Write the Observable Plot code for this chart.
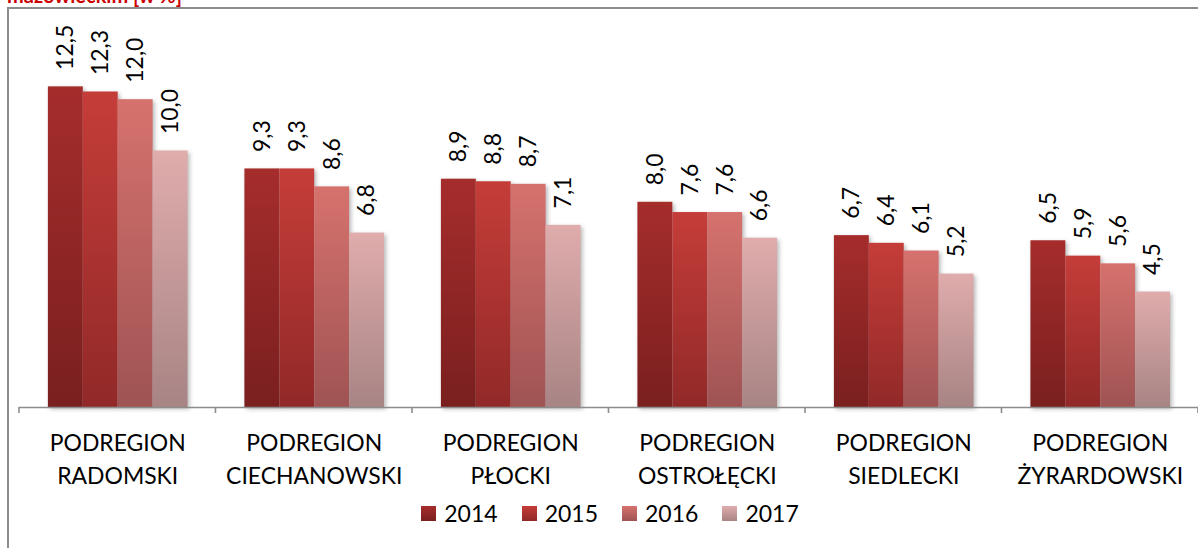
<!DOCTYPE html>
<html><head><meta charset="utf-8">
<script src="https://cdn.jsdelivr.net/npm/d3@7"></script>
<script src="https://cdn.jsdelivr.net/npm/@observablehq/plot@0.6"></script>
<style>
html,body{margin:0;padding:0;overflow:hidden;background:#fff;width:1198px;height:548px;}
#wrap{position:relative;width:1198px;height:548px;overflow:hidden;font-family:Lato,sans-serif;}
#frame{position:absolute;left:7px;top:7px;width:1300px;height:600px;border-left:2px solid #8c8c8c;border-top:2px solid #8c8c8c;}
#title{position:absolute;left:7px;top:-15px;font-size:20px;line-height:20px;font-weight:bold;color:#cc0000;white-space:nowrap;}
#chart{position:absolute;left:0;top:0;}
#legend{position:absolute;top:499px;left:0;width:1220px;display:flex;justify-content:center;gap:24px;font-size:23px;line-height:28px;color:#000;}
#legend .item{display:flex;align-items:center;gap:8px;}
#legend svg{display:block;}
</style></head>
<body><div id="wrap"><div id="title">mazowieckim [w %]</div><div id="frame"></div><div id="chart"></div><div id="legend"></div></div>
<script>
const regions = ["PODREGION\nRADOMSKI","PODREGION\nCIECHANOWSKI","PODREGION\nPŁOCKI","PODREGION\nOSTROŁĘCKI","PODREGION\nSIEDLECKI","PODREGION\nŻYRARDOWSKI"];
const years = ["2014","2015","2016","2017"];
const v2014 = [12.5, 9.3, 8.9, 8.0, 6.7, 6.5];
const v2015 = [12.3, 9.3, 8.8, 7.6, 6.4, 5.9];
const v2016 = [12.0, 8.6, 8.7, 7.6, 6.1, 5.6];
const v2017 = [10.0, 6.8, 7.1, 6.6, 5.2, 4.5];
const colorsTop = ["#a52d2c", "#c53d39", "#d6726e", "#e0acac"];
const colorsBottom = ["#7a1f1f", "#912928", "#9f5353", "#a88484"];

const series = [v2014, v2015, v2016, v2017];
const data = [];
regions.forEach((r, i) => years.forEach((y, j) => data.push({region: r, year: y, value: series[j][i]})));

const fmt = v => v.toFixed(1).replace(".", ",");

const plot = Plot.plot({
  width: 1201, height: 548,
  marginLeft: 19, marginRight: 0, marginTop: 48, marginBottom: 140,
  style: {fontFamily: "Lato, sans-serif", background: "transparent", overflow: "visible"},
  fx: {domain: regions, paddingInner: 0, paddingOuter: 0, label: null},
  x: {domain: years, paddingInner: 0, paddingOuter: 0.76, axis: null},
  y: {domain: [0, 14], axis: null},
  color: {domain: years, range: years.map(y => `url(#grad${y})`)},
  marks: [
    Plot.barY(data, {fx: "region", x: "year", y: "value", fill: "year", className: "bars"}),
    Plot.ruleY([0], {stroke: "#8c8c8c", strokeWidth: 1.6}),
    Plot.text(data, {fx: "region", x: "year", y: "value", text: d => fmt(d.value), rotate: -90, textAnchor: "start", lineAnchor: "middle", dy: -17, fontSize: 23, fill: "#000"}),
    Plot.axisFx({anchor: "bottom", tickSize: 0, tickPadding: 19, fontSize: 23, lineHeight: 1.48, label: null, fill: "#000"})
  ]
});

// gradients
const svg = d3.select(plot);
const defs = svg.insert("defs", ":first-child");
years.forEach((y, j) => {
  const g = defs.append("linearGradient").attr("id", `grad${y}`).attr("x1", 0).attr("y1", 0).attr("x2", 0).attr("y2", 1);
  g.append("stop").attr("offset", "0%").attr("stop-color", colorsTop[j]);
  g.append("stop").attr("offset", "100%").attr("stop-color", colorsBottom[j]);
});
svg.selectAll("g.bars").style("filter", "drop-shadow(2px 2px 2px rgba(0,0,0,0.28))");

// category boundary ticks from the fx scale
const fx = plot.scale("fx");
const yS = plot.scale("y");
const y0 = yS.apply(0);
const bounds = regions.map(r => fx.apply(r)).concat([fx.apply(regions[regions.length - 1]) + fx.bandwidth]);
svg.append("g").selectAll("line").data(bounds).join("line")
  .attr("x1", d => d).attr("x2", d => d).attr("y1", y0).attr("y2", y0 + 6)
  .attr("stroke", "#8c8c8c").attr("stroke-width", 1.6);

document.getElementById("chart").appendChild(plot);

// legend
const leg = d3.select("#legend");
years.forEach((y, j) => {
  const it = leg.append("div").attr("class", "item");
  const s = it.append("svg").attr("width", 15).attr("height", 15);
  s.append("rect").attr("width", 15).attr("height", 15).attr("fill", `url(#grad${y})`);
  it.append("span").text(y);
});
</script></body></html>
